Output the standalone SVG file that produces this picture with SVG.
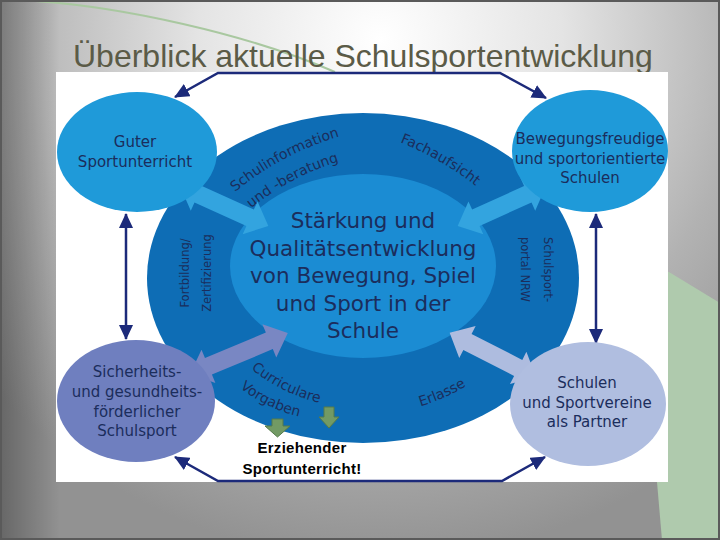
<svg xmlns="http://www.w3.org/2000/svg" xmlns:xlink="http://www.w3.org/1999/xlink" width="720" height="540" viewBox="0 0 720 540">
<defs>
<radialGradient id="bg" gradientUnits="userSpaceOnUse" cx="380" cy="40" r="520">
<stop offset="0" stop-color="#ffffff"/>
<stop offset="0.35" stop-color="#e4e4e4"/>
<stop offset="0.7" stop-color="#b2b2b2"/>
<stop offset="1" stop-color="#929292"/>
</radialGradient>
<linearGradient id="leftshade" x1="0" y1="0" x2="1" y2="0">
<stop offset="0" stop-color="#000" stop-opacity="0.3"/>
<stop offset="1" stop-color="#000" stop-opacity="0"/>
</linearGradient>
<marker id="nh" markerUnits="userSpaceOnUse" markerWidth="15" markerHeight="14" refX="14" refY="7" orient="auto-start-reverse">
<path d="M0,0 L15,7 L0,14 z" fill="#1c2a7a"/>
</marker>
<path id="p1" d="M 219 206 A 300 300 0 0 1 360.2 131"/>
<path id="p2" d="M 235.4 221.9 A 260 260 0 0 1 359 156.3"/>
<path id="p3" d="M 374.7 133.5 A 300 300 0 0 1 495.9 203.5"/>
<path id="p4" d="M 234.6 353 A 170 170 0 0 0 341.8 406.6"/>
<path id="p5" d="M 226.6 375.8 A 150 150 0 0 0 316.6 419.4"/>
<path id="p6" d="M 400.8 411.2 A 200 200 0 0 0 483 374.6"/>
<style>
.t{font-family:'DejaVu Sans',Verdana,sans-serif;fill:#1b2d5c}
.corner{font-size:15px;text-anchor:middle}
.ctr{font-size:21.5px;text-anchor:middle}
.ring{font-size:14px}
.vert{font-size:11.5px}
.navy{stroke:#1c2a7a;stroke-width:2.5;fill:none}
.green{fill:#729a64;stroke:#557a4a;stroke-width:1}
.note{font-family:'Liberation Sans',Arial,sans-serif;font-weight:bold;font-size:15px;fill:#000;text-anchor:middle;letter-spacing:0.3px}
</style>
</defs>

<g id="background">
<rect x="0" y="0" width="720" height="540" fill="url(#bg)"/>
<rect x="0" y="0" width="60" height="540" fill="url(#leftshade)"/>
<polygon points="669,272 720,303 720,540 662,540 657,482 660,272" fill="#afcaad"/>
<path d="M 20 0 C 120 5, 250 35, 335 72" stroke="#a9c8a0" stroke-width="2" fill="none"/>
<rect x="1" y="1" width="718" height="538" fill="none" stroke="#5a5a5a" stroke-width="2"/>
</g>

<text id="title" x="73" y="67" font-family="'Liberation Sans',Arial,sans-serif" font-size="32" fill="#5b5b47">Überblick aktuelle Schulsportentwicklung</text>

<g id="panel">
<rect x="56" y="72" width="612" height="410" fill="#ffffff"/>
</g>

<g id="ring">
<ellipse cx="363" cy="278" rx="216" ry="165" fill="#0e6db5"/>
<text class="t ring"><textPath xlink:href="#p1" href="#p1" startOffset="50%" text-anchor="middle">Schulinformation</textPath></text>
<text class="t ring"><textPath xlink:href="#p2" href="#p2" startOffset="50%" text-anchor="middle">und -beratung</textPath></text>
<text class="t ring"><textPath xlink:href="#p3" href="#p3" startOffset="50%" text-anchor="middle">Fachaufsicht</textPath></text>
<text class="t ring"><textPath xlink:href="#p4" href="#p4" startOffset="50%" text-anchor="middle">Curriculare</textPath></text>
<text class="t ring"><textPath xlink:href="#p5" href="#p5" startOffset="50%" text-anchor="middle">Vorgaben</textPath></text>
<text class="t ring"><textPath xlink:href="#p6" href="#p6" startOffset="50%" text-anchor="middle">Erlasse</textPath></text>
<text class="t vert" text-anchor="middle" transform="translate(189,273) rotate(-90)">Fortbildung/</text>
<text class="t vert" text-anchor="middle" transform="translate(211,273) rotate(-90)">Zertifizierung</text>
<text class="t vert" transform="translate(544,237) rotate(90)">Schulsport-</text>
<text class="t vert" transform="translate(521,237) rotate(90)">portal NRW</text>
</g>

<g id="center-node">
<ellipse cx="363" cy="266" rx="133" ry="92" fill="#1b8cd3"/>
<text class="t ctr" x="363" y="228">Stärkung und</text>
<text class="t ctr" x="363" y="256">Qualitätsentwicklung</text>
<text class="t ctr" x="363" y="283">von Bewegung, Spiel</text>
<text class="t ctr" x="363" y="311">und Sport in der</text>
<text class="t ctr" x="363" y="338">Schule</text>
</g>

<g id="connectors">
<polygon transform="translate(180,186) rotate(24.4)" points="0,0 20,-18 20,-9 77,-9 77,-18 97,0 77,18 77,9 20,9 20,18" fill="#33a4df"/>
<polygon transform="translate(546,186) rotate(155.6)" points="0,0 20,-18 20,-9 77,-9 77,-18 97,0 77,18 77,9 20,9 20,18" fill="#33a4df"/>
<polygon transform="translate(190,374) rotate(-22.7)" points="0,0 20,-18 20,-9 86,-9 86,-18 106,0 86,18 86,9 20,9 20,18" fill="#7987c3"/>
<polygon transform="translate(536,377) rotate(-152.9)" points="0,0 20,-18 20,-9 77,-9 77,-18 97,0 77,18 77,9 20,9 20,18" fill="#aebcdf"/>
<path class="navy" d="M 175 97 L 218 73 L 500 73 L 546 98" marker-start="url(#nh)" marker-end="url(#nh)"/>
<path class="navy" d="M 175 457 L 218 481 L 502 481 L 545 457" marker-start="url(#nh)" marker-end="url(#nh)"/>
<path class="navy" d="M 126 214 L 126 339" marker-start="url(#nh)" marker-end="url(#nh)"/>
<path class="navy" d="M 596 214 L 596 343" marker-start="url(#nh)" marker-end="url(#nh)"/>
<polygon class="green" points="272,419 283,419 283,426 290,426 277.5,437 265,426 272,426"/>
<polygon class="green" points="324,407 334,407 334,417 339,417 329,428 319,417 324,417"/>
</g>

<g id="node-tl">
<ellipse cx="137" cy="152" rx="80" ry="60" fill="#1f9ad9"/>
<text class="t corner" x="135" y="147">Guter</text>
<text class="t corner" x="135" y="166.5">Sportunterricht</text>
</g>

<g id="node-tr">
<ellipse cx="590" cy="151" rx="78" ry="61" fill="#1f9ad9"/>
<text class="t corner" x="590" y="144">Bewegungsfreudige</text>
<text class="t corner" x="590" y="163.5">und sportorientierte</text>
<text class="t corner" x="590" y="183">Schulen</text>
</g>

<g id="node-bl">
<ellipse cx="136" cy="401" rx="79" ry="61" fill="#6f7fbf"/>
<text class="t corner" x="137" y="377">Sicherheits-</text>
<text class="t corner" x="137" y="397">und gesundheits-</text>
<text class="t corner" x="137" y="417">förderlicher</text>
<text class="t corner" x="137" y="436">Schulsport</text>
</g>

<g id="node-br">
<ellipse cx="588" cy="404" rx="78" ry="62" fill="#b0bee0"/>
<text class="t corner" x="587" y="388">Schulen</text>
<text class="t corner" x="587" y="408">und Sportvereine</text>
<text class="t corner" x="587" y="427">als Partner</text>
</g>

<g id="note">
<text class="note" x="302" y="453">Erziehender</text>
<text class="note" x="302" y="474">Sportunterricht!</text>
</g>
</svg>
